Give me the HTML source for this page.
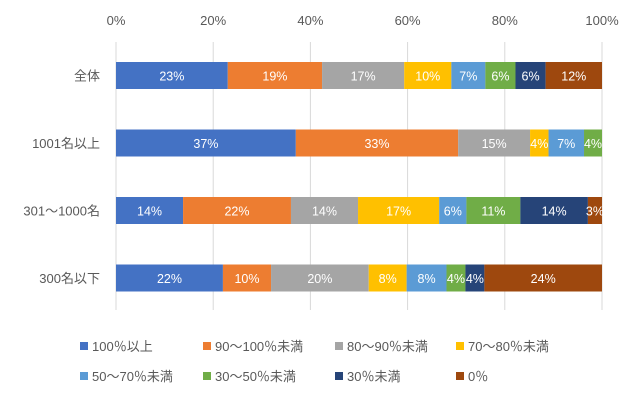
<!DOCTYPE html>
<html><head><meta charset="utf-8"><style>
body{margin:0;background:#fff;font-family:"Liberation Sans","Noto Sans CJK JP",sans-serif;}
</style></head><body>
<svg id="c" width="640" height="400" font-family="Liberation Sans, Noto Sans CJK JP, sans-serif"></svg>
<script>
const categories=["全体","1001名以上","301～1000名","300名以下"];
const seriesNames=["100％以上","90～100％未満","80～90％未満","70～80％未満","50～70％未満","30～50％未満","30％未満","0％"];
const s100=[23,37,13.8,22];
const s90=[19.4,33.4,22.2,9.9];
const s80=[16.9,14.8,13.8,20.1];
const s70=[9.7,3.8,16.7,7.8];
const s50=[7,7.3,5.6,8.2];
const s30=[6.2,3.7,11.1,3.9];
const sLt30=[6.2,0,13.9,3.9];
const s0=[11.6,0,2.9,24.2];
const labels100=["23%","37%","14%","22%"];
const labels90=["19%","33%","22%","10%"];
const labels80=["17%","15%","14%","20%"];
const labels70=["10%","4%","17%","8%"];
const labels50=["7%","7%","6%","8%"];
const labels30=["6%","4%","11%","4%"];
const labelsLt30=["6%","","14%","4%"];
const labels0=["12%","","3%","24%"];
const ticks=["0%","20%","40%","60%","80%","100%"];
const series=[s100,s90,s80,s70,s50,s30,sLt30,s0];
const seriesLabels=[labels100,labels90,labels80,labels70,labels50,labels30,labelsLt30,labels0];
const colors=["#4472C4","#ED7D31","#A5A5A5","#FFC000","#5B9BD5","#70AD47","#264478","#9E480E"];
const svg=document.getElementById('c');const NS="http://www.w3.org/2000/svg";
const x0=116,x1=602,yTop=42,yBot=310;
const x=v=>x0+(x1-x0)*v/100;
const yc=i=>75.5+i*67.5;const bh=27;
function mk(t,a){const e=document.createElementNS(NS,t);for(const k in a)e.setAttribute(k,a[k]);svg.appendChild(e);return e;}
ticks.forEach((t,i)=>{const v=i*20;
const g=mk('line',{x1:x(v),x2:x(v),y1:yTop,y2:yBot,stroke:'#d9d9d9'});

const tx=mk('text',{x:x(v),y:25,'text-anchor':'middle','font-size':13,fill:'#595959'});tx.textContent=t;
});
categories.forEach((c,i)=>{
const t=mk('text',{x:100,y:yc(i)+5,'text-anchor':'end','font-size':13,fill:'#595959'});t.textContent=c;

let acc=0;
series.forEach((s,j)=>{const v=s[i];if(v<=0)return;
const r=mk('rect',{x:x(acc),y:yc(i)-bh/2,width:x(acc+v)-x(acc),height:bh,fill:colors[j]});

const lb=seriesLabels[j][i];
if(lb){const l=mk('text',{x:(x(acc)+x(acc+v))/2,y:yc(i)+5,'text-anchor':'middle','font-size':12.5,fill:'#fff'});l.textContent=lb;
}
acc+=v;});});
const lx=[80,203,335,456];
seriesNames.forEach((n,j)=>{const px=lx[j%4],py=j<4?346:376;
const r=mk('rect',{x:px,y:py-4,width:8,height:8,fill:colors[j]});

const t=mk('text',{x:px+12,y:py+5,'font-size':13,fill:'#595959'});t.textContent=n;
});
</script>
</body></html>
